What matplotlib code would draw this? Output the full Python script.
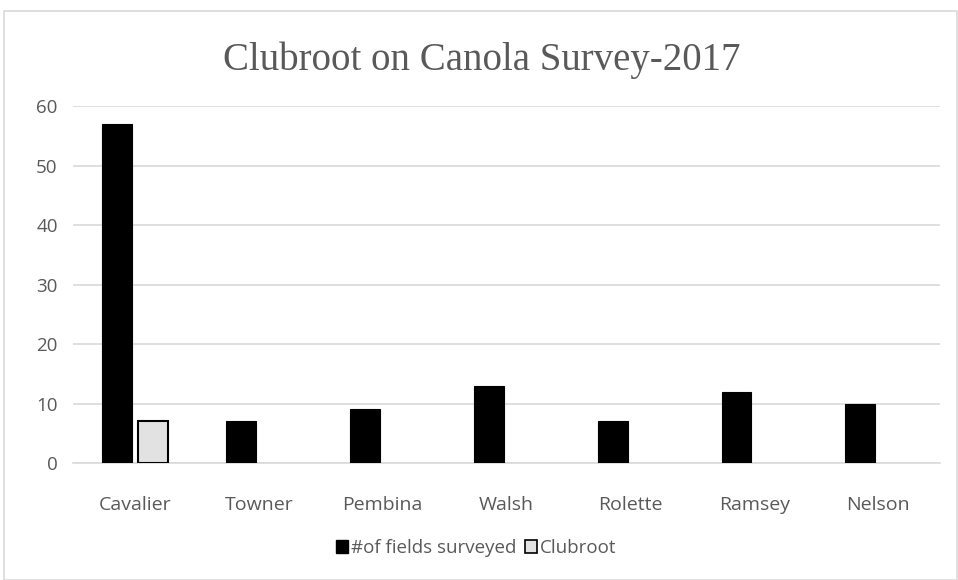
import numpy as np
import matplotlib
matplotlib.use("Agg")
import matplotlib.pyplot as plt
from matplotlib.patches import Rectangle

# data
counties = ["Cavalier", "Towner", "Pembina", "Walsh", "Rolette", "Ramsey", "Nelson"]
surveyed = [57, 7, 9, 13, 7, 12, 10]
clubroot = [7, 0, 0, 0, 0, 0, 0]
series_names = ["#of fields surveyed", "Clubroot"]
y_ticks = [0, 10, 20, 30, 40, 50, 60]

grey_text = "#595959"
grid_col = "#d9d9d9"

fig = plt.figure(figsize=(9.58, 5.8), dpi=100)
ax = fig.add_axes([73 / 958, 0.2017, 867 / 958, 0.6155])

# outer chart border
fig.patches.append(Rectangle((4 / 958, 0.5 / 580), 953 / 958, 569 / 580,
                             transform=fig.transFigure, fill=False,
                             edgecolor=grid_col, linewidth=1.2))

x = np.arange(len(counties))
w = 0.24
off = 0.143
ax.bar(x - off, surveyed, w, color="black", edgecolor="black",
       linewidth=0.8, label=series_names[0], zorder=3)
# only draw the nonzero clubroot bars so empty ones leave no outline
cr = np.array(clubroot)
ax.bar(x[cr > 0] + off, cr[cr > 0], w, color="#e2e2e2", edgecolor="black",
       linewidth=1.5, label=series_names[1], zorder=3)

ax.set_xlim(-0.5, len(counties) - 0.5)
ax.set_ylim(0, 60)
ax.set_yticks(y_ticks)
ax.set_xticks(x)
ax.set_xticklabels(counties)
ax.grid(axis="y", color=grid_col, linewidth=1.2, zorder=0)
ax.set_axisbelow(True)
for s in ["top", "right", "left"]:
    ax.spines[s].set_visible(False)
ax.spines["bottom"].set_color(grid_col)
ax.spines["bottom"].set_linewidth(1.2)
ax.tick_params(length=0, labelsize=14, labelcolor=grey_text)
ax.tick_params(axis="y", labelsize=13.5, pad=11)
ax.tick_params(axis="x", pad=24)
for lab in ax.get_xticklabels() + ax.get_yticklabels():
    lab.set_fontfamily("Open Sans")

fig.text(0.503, 1 - 70 / 580, "Clubroot on Canola Survey-2017", ha="center", va="baseline",
         fontsize=28, color=grey_text, fontfamily="Liberation Serif")

handles = [Rectangle((0, 0), 1, 1, facecolor="black", edgecolor="black"),
           Rectangle((0, 0), 1, 1, facecolor="#e2e2e2", edgecolor="black", linewidth=1.2)]
leg = fig.legend(handles, series_names, loc="center", bbox_to_anchor=(0.497, 0.055),
                 ncol=2, frameon=False, handlelength=0.65, handleheight=0.65,
                 handletextpad=0.15, columnspacing=0.5,
                 prop={"family": "Open Sans", "size": 13.5})
for t in leg.get_texts():
    t.set_color(grey_text)

fig.savefig("out.png", dpi=100)
